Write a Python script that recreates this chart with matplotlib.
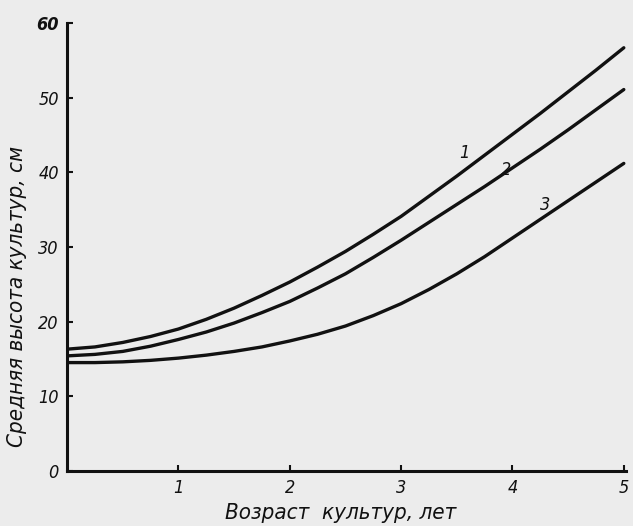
import matplotlib
matplotlib.use("Agg")
import matplotlib.pyplot as plt

age = [0, 0.25, 0.5, 0.75, 1, 1.25, 1.5, 1.75, 2, 2.25, 2.5,
       2.75, 3, 3.25, 3.5, 3.75, 4, 4.25, 4.5, 4.75, 5]
curve1 = [16.3, 16.6, 17.2, 18.0, 19.0, 20.3, 21.8, 23.5, 25.3, 27.3, 29.4,
          31.7, 34.1, 36.8, 39.5, 42.3, 45.1, 47.9, 50.8, 53.7, 56.7]
curve2 = [15.4, 15.6, 16.0, 16.7, 17.6, 18.6, 19.8, 21.2, 22.7, 24.5, 26.4,
          28.6, 30.9, 33.3, 35.7, 38.1, 40.6, 43.1, 45.7, 48.4, 51.1]
curve3 = [14.5, 14.5, 14.6, 14.8, 15.1, 15.5, 16.0, 16.6, 17.4, 18.3, 19.4,
          20.8, 22.4, 24.3, 26.4, 28.7, 31.2, 33.7, 36.2, 38.7, 41.2]
curve_labels = ["1", "2", "3"]
label_pos = [(3.57, 42.6), (3.94, 40.3), (4.29, 35.6)]
xticks = [1, 2, 3, 4, 5]
yticks = [0, 10, 20, 30, 40, 50, 60]

fam = ["DejaVu Sans", "Liberation Sans"]
bg = "#ececec"
ink = "#111111"
tkw = dict(fontsize=13, style="italic", family=fam, stretch="condensed", color=ink)

fig = plt.figure(figsize=(6.33, 5.26), dpi=100, facecolor=bg)
ax = fig.add_axes([0.106, 0.105, 0.883, 0.851], facecolor=bg)

for y in (curve1, curve2, curve3):
    ax.plot(age, y, color=ink, lw=2.4, solid_capstyle="round", solid_joinstyle="round")

for lab, (x, y) in zip(curve_labels, label_pos):
    ax.text(x, y, lab, ha="center", va="center", **tkw)

ax.set_xlim(0, 5.02)
ax.set_ylim(0, 60)
ax.set_xticks(xticks)
ax.set_yticks(yticks)
ax.set_xticklabels([str(v) for v in xticks], **tkw)
ax.set_yticklabels([str(v) for v in yticks], **tkw)
for lbl in ax.get_yticklabels():
    if lbl.get_text() == "60":
        lbl.set_fontweight("bold")
ax.tick_params(direction="in", length=4, width=1.5, colors=ink, pad=6)
for s in ("top", "right"):
    ax.spines[s].set_visible(False)
for s in ("left", "bottom"):
    ax.spines[s].set_linewidth(2.2)
    ax.spines[s].set_color(ink)

lkw = dict(tkw)
lkw["fontsize"] = 16
ax.set_xlabel("Возраст  культур, лет", **lkw)
ax.set_ylabel("Средняя высота культур, см", **lkw)
ax.xaxis.set_label_coords(0.49, -0.072)
ax.yaxis.set_label_coords(-0.072, 0.39)

fig.savefig("out.png", dpi=100, facecolor=bg)
